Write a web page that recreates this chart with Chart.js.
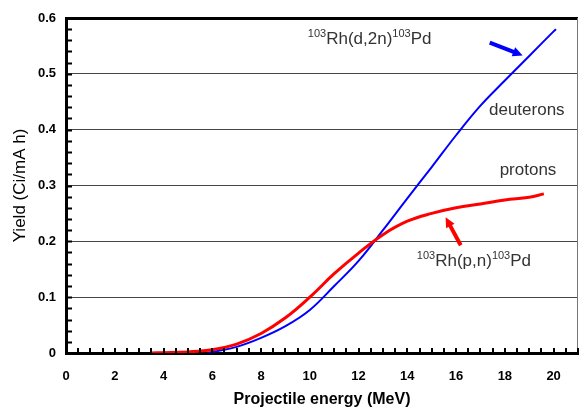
<!DOCTYPE html>
<html lang="en">
<head>
  <meta charset="UTF-8">
  <title>Pd-103 yield</title>
  <script src="https://cdn.jsdelivr.net/npm/chart.js"></script>
  <style>
    html, body { margin: 0; padding: 0; background: #fff; }
    #wrap { width: 579px; height: 408px; }
  </style>
</head>
<body>
<div id="wrap"><canvas id="yieldChart" width="579" height="408"></canvas></div>

<script>
  // Rh-103 targets: thick-target yield vs projectile energy
  const protonEnergy = [3.5, 4, 5, 6, 7, 8, 9, 10, 11, 12, 13, 14, 15, 16, 17, 18, 19, 19.6];
  const protonYield  = [0, 0.0005, 0.002, 0.006, 0.016, 0.035, 0.063, 0.1, 0.142, 0.179, 0.212, 0.236, 0.25, 0.26, 0.267, 0.274, 0.279, 0.285];

  const deuteronEnergy = [5.8, 6, 7, 8, 9, 10, 11, 12, 13, 14, 15, 16, 17, 18, 19, 20, 20.1];
  const deuteronYield  = [0, 0.002, 0.011, 0.027, 0.048, 0.077, 0.12, 0.165, 0.22, 0.277, 0.333, 0.39, 0.443, 0.488, 0.532, 0.576, 0.58];

  const xTicks = [0, 2, 4, 6, 8, 10, 12, 14, 16, 18, 20];
  const yTicks = [0, 0.1, 0.2, 0.3, 0.4, 0.5, 0.6];

  const toPoints = (xs, ys) => xs.map((x, i) => ({ x: x, y: ys[i] }));

  const FONT = "'Liberation Sans', Arial, sans-serif";

  // text with superscript mass numbers, e.g. 103Rh(p,n)103Pd
  function drawNuclide(ctx, x, y, parts) {
    let cx = x;
    ctx.textAlign = 'left';
    ctx.textBaseline = 'alphabetic';
    parts.forEach(p => {
      if (p.sup) {
        ctx.font = '11px ' + FONT;
        ctx.fillText(p.text, cx, y - 7);
      } else {
        ctx.font = '17px ' + FONT;
        ctx.fillText(p.text, cx, y);
      }
      cx += ctx.measureText(p.text).width;
    });
  }

  function drawArrow(ctx, x1, y1, x2, y2, color) {
    const ang = Math.atan2(y2 - y1, x2 - x1);
    const head = 11;
    ctx.strokeStyle = color;
    ctx.fillStyle = color;
    ctx.lineWidth = 4;
    ctx.beginPath();
    ctx.moveTo(x1, y1);
    ctx.lineTo(x2 - Math.cos(ang) * head * 0.7, y2 - Math.sin(ang) * head * 0.7);
    ctx.stroke();
    ctx.beginPath();
    ctx.moveTo(x2, y2);
    ctx.lineTo(x2 - head * Math.cos(ang - 0.45), y2 - head * Math.sin(ang - 0.45));
    ctx.lineTo(x2 - head * Math.cos(ang + 0.45), y2 - head * Math.sin(ang + 0.45));
    ctx.closePath();
    ctx.fill();
  }

  // inward minor ticks, frame and labels
  const frameAndLabels = {
    id: 'frameAndLabels',
    afterDatasetsDraw(chart) {
      const { ctx, chartArea: a, scales: { x, y } } = chart;
      ctx.save();

      // right edge
      ctx.strokeStyle = '#777';
      ctx.lineWidth = 1;
      ctx.beginPath();
      ctx.moveTo(a.right - 0.5, a.top);
      ctx.lineTo(a.right - 0.5, a.bottom);
      ctx.stroke();

      ctx.strokeStyle = '#000';
      ctx.lineWidth = 2;
      ctx.beginPath();
      for (let v = 0; v <= 0.6001; v += 0.02) {
        const py = Math.round(y.getPixelForValue(v)) + 0.5;
        ctx.moveTo(a.left, py);
        ctx.lineTo(a.left + 6, py);
      }
      for (let v = 0; v <= 21.001; v += 0.5) {
        const px = Math.round(x.getPixelForValue(v));
        ctx.moveTo(px, a.bottom);
        ctx.lineTo(px, a.bottom - 5);
      }
      ctx.stroke();

      ctx.fillStyle = '#333';
      drawNuclide(ctx, x.getPixelForValue(9.92), y.getPixelForValue(0.553),
        [{ text: '103', sup: true }, { text: 'Rh(d,2n)' }, { text: '103', sup: true }, { text: 'Pd' }]);
      drawNuclide(ctx, x.getPixelForValue(14.39), y.getPixelForValue(0.156),
        [{ text: '103', sup: true }, { text: 'Rh(p,n)' }, { text: '103', sup: true }, { text: 'Pd' }]);

      ctx.font = '17px ' + FONT;
      ctx.textAlign = 'center';
      ctx.textBaseline = 'middle';
      ctx.fillText('deuterons', x.getPixelForValue(18.9), y.getPixelForValue(0.435));
      ctx.fillText('protons', x.getPixelForValue(18.95), y.getPixelForValue(0.328));

      drawArrow(ctx, x.getPixelForValue(17.38), y.getPixelForValue(0.556),
        x.getPixelForValue(18.73), y.getPixelForValue(0.533), '#0000ff');
      drawArrow(ctx, x.getPixelForValue(16.19), y.getPixelForValue(0.193),
        x.getPixelForValue(15.57), y.getPixelForValue(0.243), '#ff0000');

      ctx.restore();
    }
  };

  const ctx = document.getElementById('yieldChart').getContext('2d');
  new Chart(ctx, {
    type: 'line',
    data: {
      datasets: [
        {
          label: 'protons',
          data: toPoints(protonEnergy, protonYield),
          borderColor: '#ff0000',
          borderWidth: 3,
          pointRadius: 0,
          tension: 0.4
        },
        {
          label: 'deuterons',
          data: toPoints(deuteronEnergy, deuteronYield),
          borderColor: '#0000ff',
          borderWidth: 2,
          pointRadius: 0,
          tension: 0.4
        }
      ]
    },
    options: {
      responsive: false,
      animation: false,
      layout: { padding: { left: 0, right: 1, top: 18, bottom: 0 } },
      plugins: {
        legend: { display: false },
        tooltip: { enabled: false }
      },
      scales: {
        x: {
          type: 'linear',
          min: 0,
          max: 21,
          afterBuildTicks: s => { s.ticks = xTicks.map(v => ({ value: v })); },
          afterFit: s => { s.height = 55; },
          grid: { display: false, drawTicks: false },
          border: { color: '#000', width: 3 },
          ticks: {
            padding: 16,
            maxRotation: 0,
            color: '#000',
            font: { family: FONT, size: 13, weight: 'bold' }
          },
          title: {
            display: true,
            text: 'Projectile energy (MeV)',
            color: '#000',
            padding: { top: 0, bottom: 0 },
            font: { family: FONT, size: 16, weight: 'bold', lineHeight: 1 }
          }
        },
        y: {
          min: 0,
          max: 0.6,
          afterBuildTicks: s => { s.ticks = yTicks.map(v => ({ value: v })); },
          afterFit: s => { s.width = 66; },
          grid: {
            drawTicks: false,
            color: ctx => ctx.tick && ctx.tick.value >= 0.59 ? '#000' : '#444',
            lineWidth: ctx => ctx.tick && ctx.tick.value >= 0.59 ? 3 : 1
          },
          border: { color: '#000', width: 3 },
          ticks: {
            padding: 10,
            color: '#000',
            font: { family: FONT, size: 13, weight: 'bold' },
            callback: v => String(Math.round(v * 10) / 10)
          },
          title: {
            display: true,
            text: 'Yield (Ci/mA h)',
            color: '#000',
            padding: { top: 10, bottom: 0 },
            font: { family: FONT, size: 17 }
          }
        }
      }
    },
    plugins: [frameAndLabels]
  });
</script>
</body>
</html>
